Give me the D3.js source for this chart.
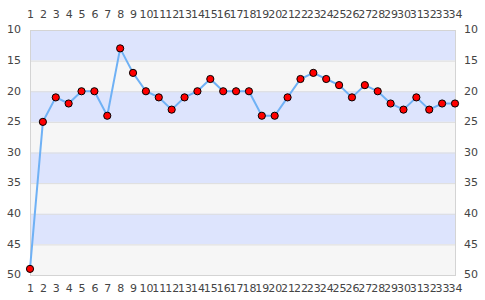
<!DOCTYPE html>
<meta charset="utf-8">
<script src="https://d3js.org/d3.v7.min.js"></script>
<style>
  body { margin: 0; background: #fff; }
  .tick text { font-family: "DejaVu Sans", sans-serif; font-size: 11px; fill: #444; }
</style>
<div id="chart"></div>
<script>
// data
var xLabels = d3.range(1, 35);
var values = [49, 25, 21, 22, 20, 20, 24, 13, 17, 20, 21, 23, 21, 20, 18, 20, 20, 20,
              24, 24, 21, 18, 17, 18, 19, 21, 19, 20, 22, 23, 21, 23, 22, 22];
var yTicks = [10, 15, 20, 25, 30, 35, 40, 45, 50];

var W = 485, H = 300;
var margin = {top: 30, right: 30, bottom: 25, left: 30};
var width = W - margin.left - margin.right,
    height = H - margin.top - margin.bottom;

var svg = d3.select("#chart").append("svg")
    .attr("width", W).attr("height", H)
  .append("g")
    .attr("transform", "translate(" + margin.left + "," + margin.top + ")");

var x = d3.scaleLinear().domain([1, 34]).range([0, width]);
var y = d3.scaleLinear().domain([10, 50]).range([0, height]);

// alternating bands
var bands = d3.pairs(yTicks);
svg.selectAll(".band")
  .data(bands)
  .enter().append("rect")
    .attr("x", 0)
    .attr("width", width)
    .attr("y", function(d) { return y(d[0]); })
    .attr("height", function(d) { return y(d[1]) - y(d[0]); })
    .attr("fill", function(d, i) { return i % 2 == 0 ? "#dde4fd" : "#f6f6f6"; });

// grid lines
svg.selectAll(".grid")
  .data(yTicks)
  .enter().append("line")
    .attr("x1", 0).attr("x2", width)
    .attr("y1", function(d) { return y(d) + 0.5; })
    .attr("y2", function(d) { return y(d) + 0.5; })
    .attr("stroke", "#dddddd");

// frame
svg.append("rect")
  .attr("x", 0.5).attr("y", 0.5)
  .attr("width", width).attr("height", height)
  .attr("fill", "none")
  .attr("stroke", "#d4d4d4");

// axes
function styleAxis(g) {
  g.select(".domain").remove();
  g.selectAll(".tick line").remove();
}
svg.append("g").call(d3.axisLeft(y).tickValues(yTicks).tickSize(0).tickPadding(9)).call(styleAxis)
  .selectAll("text").attr("dy", "0.25em");
svg.append("g").attr("transform", "translate(" + width + ",0)")
  .call(d3.axisRight(y).tickValues(yTicks).tickSize(0).tickPadding(9)).call(styleAxis)
  .selectAll("text").attr("dy", "0.25em");
svg.append("g").call(d3.axisTop(x).tickValues(xLabels).tickFormat(d3.format("d")).tickSize(0).tickPadding(12)).call(styleAxis);
svg.append("g").attr("transform", "translate(0," + height + ")")
  .call(d3.axisBottom(x).tickValues(xLabels).tickFormat(d3.format("d")).tickSize(0).tickPadding(9)).call(styleAxis);

// line
var line = d3.line()
  .x(function(d, i) { return x(xLabels[i]); })
  .y(function(d) { return y(d); });
svg.append("path")
  .datum(values)
  .attr("d", line)
  .attr("fill", "none")
  .attr("stroke", "#6fb1f5")
  .attr("stroke-width", 2);

// points
svg.selectAll(".pt")
  .data(values)
  .enter().append("circle")
    .attr("cx", function(d, i) { return x(xLabels[i]); })
    .attr("cy", function(d) { return y(d); })
    .attr("r", 3.6)
    .attr("fill", "#ff0000")
    .attr("stroke", "#000")
    .attr("stroke-width", 1);
</script>
